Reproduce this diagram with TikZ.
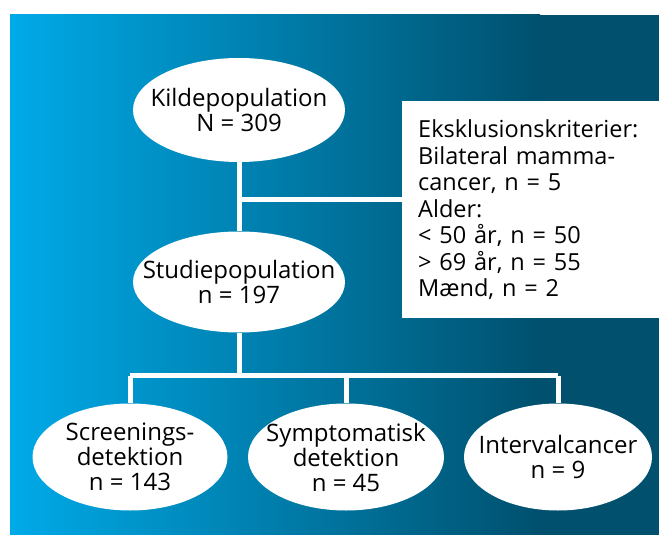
\documentclass[tikz,border=0pt]{standalone}
\usepackage{fontspec}
\setmainfont{Open Sans}
\usetikzlibrary{shapes.geometric}

\definecolor{lyseblaa}{RGB}{0,170,232}
\definecolor{moerkeblaa}{RGB}{0,80,110}

\tikzset{
  boble/.style={ellipse, fill=white, inner xsep=-22pt, inner ysep=-6pt, align=center,
    font=\fontsize{24}{25}\selectfont},
  linje/.style={white, line width=5pt}
}

\begin{document}
\begin{tikzpicture}[x=1pt, y=-1pt]
        \useasboundingbox (0,0) rectangle (659,535);
        \shade[left color=lyseblaa, right color=moerkeblaa] (10,15) rectangle (540,535);
        \fill[moerkeblaa] (539.5,15) rectangle (659,535);

        \node[boble, minimum width=212pt, minimum height=104pt] (kilde) at (239,110) {Kildepopulation\\N = 309};
        \node[boble, minimum width=212pt, minimum height=101pt] (studie) at (239,282) {Studiepopulation\\n = 197};
        \node[boble, minimum width=195pt, minimum height=107pt] (screen) at (130,457) {Screenings-\\detektion\\n = 143};
        \node[boble, minimum width=196pt, minimum height=107pt] (sympt) at (346,457) {Symptomatisk\\detektion\\n = 45};
        \node[boble, minimum width=188pt, minimum height=107pt] (interval) at (558,457) {Intervalcancer\\n = 9};
        \node[fill=white, anchor=north west, minimum width=257pt, minimum height=217pt,
          text width=235pt, inner xsep=16pt, align=left,
          font=\fontsize{23.5}{26.5}\selectfont] (eksl) at (402,101)
          {Eksklusionskriterier:\\Bilateral mamma-\\cancer, n = 5\\Alder:\\< 50 år, n = 50\\> 69 år, n = 55\\Mænd, n = 2};

        \coordinate (gren) at (239,199.5);
        \coordinate (bus) at (239,375.5);

        \draw[linje] (kilde.south) -- (studie.north);
        \draw[linje] (gren) -- (gren -| eksl.west);
        \draw[linje] (studie.south) -- (bus);
        \draw[linje] (screen.north |- bus) -- (interval.north |- bus);
        \draw[linje] (screen.north |- bus) -- (screen.north);
        \draw[linje] (sympt.north |- bus) -- (sympt.north);
        \draw[linje] (interval.north |- bus) -- (interval.north);
    \end{tikzpicture}
\end{document}
